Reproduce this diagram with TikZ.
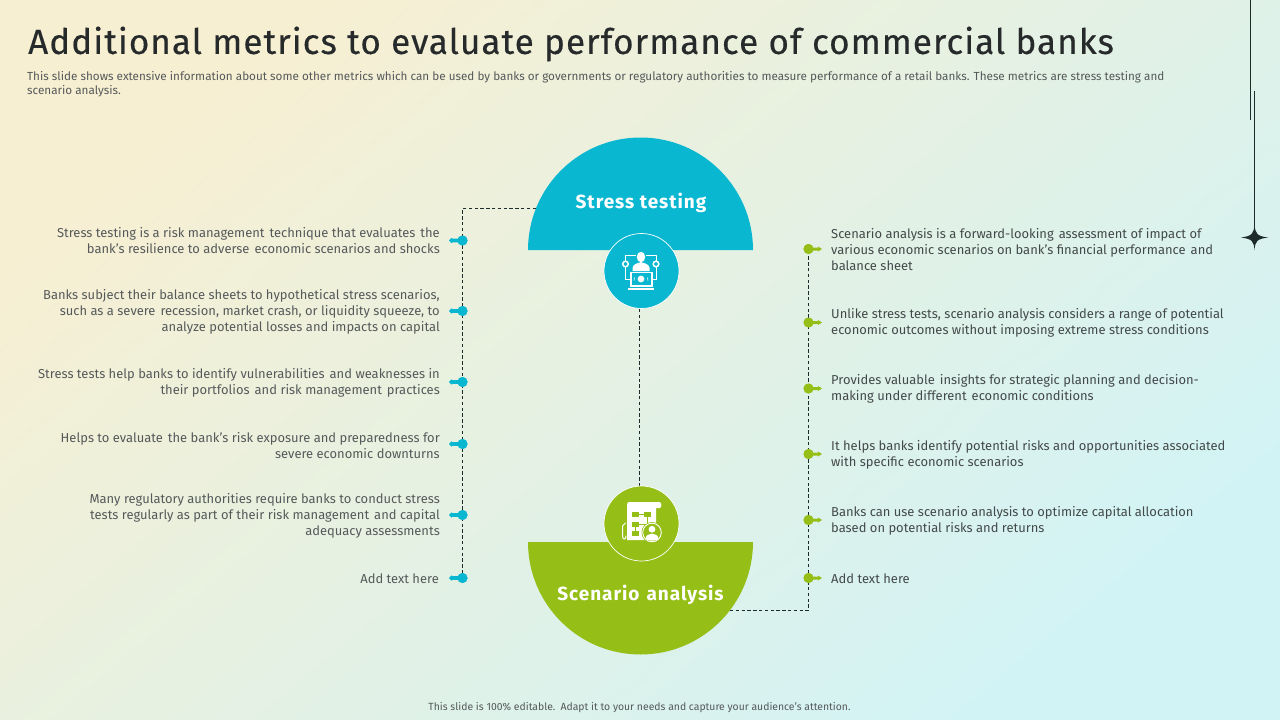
\documentclass[tikz,border=0pt]{standalone}
\usepackage{fontspec}
\setmainfont{Fira Sans}
\newfontfamily\titlefont[LetterSpace=3.05,FakeBold=0.35]{Fira Sans}
\newfontfamily\headfont[LetterSpace=5]{Fira Sans}
\newcommand{\gapx}{\hspace{1.6pt}}
\definecolor{bgA}{HTML}{F7EFD2}
\definecolor{bgB}{HTML}{E6F0E2}
\definecolor{bgC}{HTML}{D2F3F5}
\definecolor{teal}{HTML}{0AB7D1}
\definecolor{leaf}{HTML}{95BF17}
\definecolor{ink}{HTML}{1E2B2B}
\definecolor{titleink}{HTML}{262A2A}
\definecolor{bodyL}{HTML}{55595A}
\definecolor{bodyR}{HTML}{43494A}
\tikzset{
  x=1pt,y=-1pt,
  ltext/.style={anchor=east,align=right,inner sep=0pt,text=bodyL,font=\fontsize{12.95}{16}\selectfont},
  rtext/.style={anchor=west,align=left,inner sep=0pt,text=bodyR,font=\fontsize{12.95}{16}\selectfont},
  dotL/.style={circle,fill=teal,minimum size=10pt,inner sep=0pt},
  dotR/.style={circle,fill=leaf,minimum size=10pt,inner sep=0pt},
  dashline/.style={draw=ink,line width=1pt,dash pattern=on 3.4pt off 2.4pt},
  head/.style={text=white,inner sep=0pt,font=\headfont\fontsize{19}{22}\selectfont\bfseries},
  iconA/.style={circle,fill=teal,draw=white,line width=0.7pt,minimum size=75pt,inner sep=0pt},
  iconB/.style={circle,fill=leaf,draw=white,line width=0.7pt,minimum size=75pt,inner sep=0pt},
}
\begin{document}
\begin{tikzpicture}
\useasboundingbox (0,0) rectangle (1280,720);
\shade[left color=bgA,middle color=bgB,right color=bgC,shading angle=40] (0,0) rectangle (1280,720);
% title
\node[anchor=west,inner sep=0pt,text=titleink,font=\titlefont\fontsize{35}{40}\selectfont] (title) at (28,44) {Additional metrics to evaluate performance of commercial banks};
\node[anchor=north west,inner sep=0pt,align=left,text=bodyL,font=\fontsize{11.7}{14}\selectfont] (sub) at (27,71.5) {This slide shows extensive information about some other metrics which can be used by banks or governments or regulatory authorities to measure performance of a retail banks. These metrics are stress testing and\\scenario analysis.};
% decoration
\draw[ink,line width=1pt] (1250.5,0) -- (1250.5,120);
\draw[ink,line width=1pt] (1254.5,91) -- (1254.5,237);
\fill[ink] (1254.5,224) .. controls (1255.2,234) and (1257,236) .. (1268,237.5) .. controls (1257,239) and (1255.2,241) .. (1254.5,250) .. controls (1253.8,241) and (1252,239) .. (1241,237.5) .. controls (1252,236) and (1253.8,234) .. (1254.5,224) -- cycle;
% semicircles
\fill[teal] (528,250) arc[start angle=180,end angle=360,radius=112.5] -- cycle;
\fill[leaf] (528,542) arc[start angle=180,end angle=0,radius=112.5] -- cycle;
\coordinate (stressEdge) at (536,208.5);
\coordinate (scenEdge) at (730,610.5);
\coordinate (leftCorner) at (462.5,208.5);
\coordinate (rightCorner) at (808.5,610.5);
\coordinate (midTop) at (639.5,309);
\coordinate (midBot) at (639.5,486);
% dots
\node[dotL] (l1) at (462.5,240.5) {};
\node[dotL] (l2) at (462.5,311) {};
\node[dotL] (l3) at (462.5,382) {};
\node[dotL] (l4) at (462.5,444) {};
\node[dotL] (l5) at (462.5,515) {};
\node[dotL] (l6) at (462.5,578) {};
\node[dotR] (r1) at (808.5,249) {};
\node[dotR] (r2) at (808.5,322.5) {};
\node[dotR] (r3) at (808.5,388.5) {};
\node[dotR] (r4) at (808.5,454) {};
\node[dotR] (r5) at (808.5,520) {};
\node[dotR] (r6) at (808.5,578) {};
% dashed connectors
\path[dashline] (stressEdge) -- (leftCorner) -- (l6.center);
\path[dashline] (scenEdge) -- (rightCorner) -- (r1.center);
\path[dashline] (midTop) -- (midBot);
% icon circles
\node[iconA] (ia) at (641.5,271) {};
\node[iconB] (ib) at (641.5,523.5) {};
% stems
\foreach \n in {l1,l2,l3,l4,l5,l6}{
  \fill[teal] (\n.center) ++(0,-1.8) -- ++(-10,0) -- ++(-1,-0.8) -- ++(-2.5,2.6) -- ++(2.5,2.6) -- ++(1,-0.8) -- ++(10,0) -- cycle;
  \node[dotL] at (\n.center) {};
}
\foreach \n in {r1,r2,r3,r4,r5,r6}{
  \fill[leaf] (\n.center) ++(0,-1.5) -- ++(9.5,0) -- ++(0,-1) -- ++(4,2.5) -- ++(-4,2.5) -- ++(0,-1) -- ++(-9.5,0) -- cycle;
  \node[dotR] at (\n.center) {};
}
% headings
\node[head] (h1) at (641,202.5) {Stress testing};
\node[head] (h2) at (640.5,595) {Scenario\gapx{} analysis};
% left texts
\node[ltext] (tl1) at (440,240.5) {Stress testing is a risk management\gapx{} technique that evaluates\gapx{} the\\bank's resilience to adverse\gapx{} economic scenarios and shocks};
\node[ltext] (tl2) at (440,312) {Banks subject their balance sheets to hypothetical stress scenarios,\\such as a severe\gapx{} recession, market crash, or liquidity squeeze, to\\analyze potential losses and impacts on capital};
\node[ltext] (tl3) at (440,383) {Stress tests help banks to identify vulnerabilities\gapx{} and weaknesses in\\their portfolios\gapx{} and risk management\gapx{} practices};
\node[ltext] (tl4) at (440,446) {Helps to evaluate\gapx{} the bank's risk exposure and preparedness for\\severe economic downturns};
\node[ltext] (tl5) at (440,516) {Many regulatory authorities require banks to conduct stress\\tests regularly as part of their risk management\gapx{} and capital\\adequacy assessments};
\node[ltext] (tl6) at (439,578.5) {Add text here};
% right texts
\node[rtext] (tr1) at (831,250) {Scenario analysis is a forward-looking\gapx{} assessment of impact of\\various economic scenarios on bank's financial performance\gapx{} and\\balance sheet};
\node[rtext] (tr2) at (831,323) {Unlike stress tests, scenario analysis considers a range of potential\\economic outcomes without imposing extreme stress conditions};
\node[rtext] (tr3) at (831,389) {Provides valuable\gapx{} insights for strategic planning and decision-\\making under different\gapx{} economic conditions};
\node[rtext] (tr4) at (831,455) {It helps banks identify potential risks and opportunities associated\\with specific economic scenarios};
\node[rtext] (tr5) at (831,521) {Banks can use scenario analysis to optimize capital allocation\\based on potential risks and returns};
\node[rtext] (tr6) at (831,578.5) {Add text here};
% footer
\node[inner sep=0pt,text=bodyL,font=\fontsize{10.4}{12}\selectfont] (foot) at (639.5,708) {This slide is 100\% editable.\gapx{} Adapt it to your needs and capture your audience's attention.};
% icon A
\fill[white] (641,257) ellipse (4.2 and 5.2);
\fill[white] (632.5,271) -- (632.5,268) .. controls (633,264) and (637,263.5) .. (641,262) .. controls (645,263.5) and (649,264) .. (649.5,268) -- (649.5,271) -- cycle;
\draw[white,line width=0.6pt] (625.5,261) -- (625.5,255) -- (636,255);
\draw[white,line width=0.6pt] (656,261) -- (656,255) -- (646,255);
\draw[white,line width=0.6pt] (625.5,267) -- (625.5,279) -- (631,279);
\draw[white,line width=0.6pt] (656,267) -- (656,279) -- (652,279);
\draw[white,line width=1.5pt] (625.5,264) circle (2.8);
\draw[white,line width=1.5pt] (656,264) circle (2.8);
\draw[white,line width=1.4pt] (631,272.5) rectangle (652,286);
\fill[white] (628,287.5) rectangle (654,289.5);
\fill[white] (641,279) circle (3.4);
\draw[white,line width=0.6pt] (634.5,277.5) -- (634,280.5) (647.5,277.5) -- (648,280.5);
% icon B
\fill[white] (629,502) -- (659,502) .. controls (662,502) and (662,507) .. (660,508) -- (656,508) -- (656,530) -- (645,540) -- (627,540) -- (627,505) .. controls (627,503) and (628,502) .. (629,502) -- cycle;
\draw[white,line width=1pt,line cap=round] (625.5,523) -- (622.5,526) -- (622.5,536) .. controls (622.5,540) and (626,540) .. (626,536);
\fill[leaf] (632,511.5) rectangle (638.5,516.5);
\fill[leaf] (644,511.5) rectangle (650.5,516.5);
\fill[leaf] (632,521.5) rectangle (638.5,526.5);
\fill[leaf] (632,530.5) rectangle (638.5,535.5);
\draw[leaf,line width=0.7pt] (638.5,514) -- (644,514) (647,516.5) -- (647,524) -- (638.5,524) (635,526.5) -- (635,530.5);
\fill[leaf] (652,532.5) circle (10.5);
\draw[white,line width=0.9pt] (652,532.5) circle (9.3);
\fill[white] (652,529.3) circle (3.4);
\fill[white] (645.5,538.8) .. controls (646,534.8) and (649,533.8) .. (652,533.8) .. controls (655,533.8) and (658,534.8) .. (658.5,538.8) .. controls (656,541.3) and (648,541.3) .. (645.5,538.8) -- cycle;
\end{tikzpicture}
\end{document}
